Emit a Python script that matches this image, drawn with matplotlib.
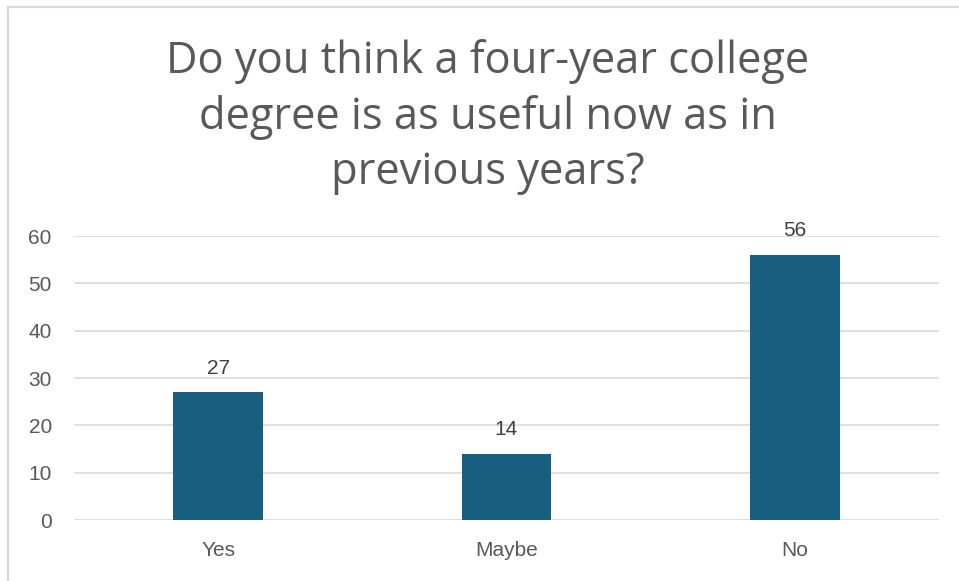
import matplotlib.pyplot as plt
from matplotlib.lines import Line2D

# data
categories = ['Yes', 'Maybe', 'No']
counts = [27, 14, 56]
y_ticks = [0, 10, 20, 30, 40, 50, 60]
title = 'Do you think a four-year college\ndegree is as useful now as in\nprevious years?'

bar_color = '#175E7F'
grid_color = '#D9D9D9'
text_color = '#595959'

fig = plt.figure(figsize=(9.59, 5.81), dpi=100)
ax = fig.add_axes([74 / 959, 61 / 581, 865 / 959, 284 / 581])

x = list(range(len(categories)))
bars = ax.bar(x, counts, width=0.31, color=bar_color, zorder=3)

ax.set_xlim(-0.5, len(categories) - 0.5)
ax.set_ylim(0, 60)
ax.set_yticks(y_ticks)
ax.set_xticks(x)
ax.set_xticklabels(categories)

ax.grid(axis='y', color=grid_color, linewidth=1.2, zorder=0)
for s in ax.spines.values():
    s.set_visible(False)
ax.tick_params(length=0, labelsize=15, colors=text_color)
ax.tick_params(axis='y', pad=16)
ax.tick_params(axis='x', pad=15)
for lbl in ax.get_xticklabels() + ax.get_yticklabels():
    lbl.set_fontfamily('Liberation Sans')

# data labels
for b, v in zip(bars, counts):
    ax.annotate(str(v), (b.get_x() + b.get_width() / 2, v),
                xytext=(0, 10.5), textcoords='offset points',
                ha='center', va='bottom', fontsize=15,
                color='#404040', family='Liberation Sans')

# title
fig.text(488 / 959, 1 - 117 / 581, title, ha='center', va='center',
         multialignment='center', fontsize=31.3, color=text_color,
         family='Open Sans', linespacing=1.33)

# chart border (light gray, left and top visible)
fig.add_artist(Line2D([8 / 959, 8 / 959], [0, 1 - 7 / 581],
                      color='#D9D9D9', linewidth=1.5, transform=fig.transFigure))
fig.add_artist(Line2D([8 / 959, 1], [1 - 7 / 581, 1 - 7 / 581],
                      color='#D9D9D9', linewidth=1.5, transform=fig.transFigure))

fig.savefig('out.png', dpi=100)
